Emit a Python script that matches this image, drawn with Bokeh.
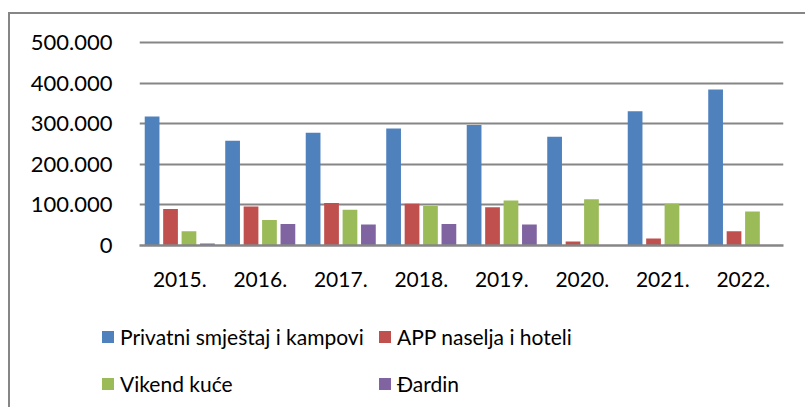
from bokeh.plotting import figure
from bokeh.models import (FactorRange, FixedTicker, Legend, LegendItem, ColumnDataSource, Range1d,
                          Spacer)
from bokeh.transform import dodge
from bokeh.layouts import column, row
from bokeh.embed import file_html
from bokeh.resources import INLINE

years = ["2015.", "2016.", "2017.", "2018.", "2019.", "2020.", "2021.", "2022."]
privatni = [318000, 258000, 278000, 288000, 297000, 268000, 331000, 384000]
app = [90000, 96000, 105000, 103000, 94000, 10000, 17000, 35000]
vikend = [35000, 63000, 88000, 97000, 111000, 114000, 103000, 84000]
dardin = [5000, 53000, 52000, 53000, 52000, 0, 0, 0]

series_names = ["Privatni smještaj i kampovi", "APP naselja i hoteli", "Vikend kuće", "Đardin"]
series_keys = ["privatni", "app", "vikend", "dardin"]
colors = ["#4F81BD", "#C0504D", "#9BBB59", "#8064A2"]
y_ticks = [0, 100000, 200000, 300000, 400000, 500000]
y_labels = ["0", "100.000", "200.000", "300.000", "400.000", "500.000"]

src = ColumnDataSource(dict(year=years, privatni=privatni, app=app, vikend=vikend, dardin=dardin))

FONT = "Lato"
FS = "21px"
GRAY = "#868686"
BORDER = "2px solid " + GRAY

# main chart
p = figure(x_range=FactorRange(factors=years, range_padding=0), y_range=Range1d(0, 505000),
           width=797, height=290, output_backend="svg", toolbar_location=None,
           min_border_left=129, min_border_right=24, min_border_top=26, min_border_bottom=59)
p.frame_align = False
p.styles = {"border-top": BORDER, "border-left": BORDER}
p.outline_line_color = None
p.xgrid.grid_line_color = None
p.ygrid.grid_line_color = GRAY
p.ygrid.grid_line_width = 2

bar_w = 0.183
step = 0.229
offsets = [-1.5 * step, -0.5 * step, 0.5 * step, 1.5 * step]
for key, off, c in zip(series_keys, offsets, colors):
    p.vbar(x=dodge("year", off, range=p.x_range), top=key, width=bar_w, source=src,
           fill_color=c, line_color=None)

p.yaxis.ticker = FixedTicker(ticks=y_ticks)
p.yaxis.major_label_overrides = {t: l for t, l in zip(y_ticks, y_labels)}
p.yaxis.axis_line_color = None
p.yaxis.major_tick_line_color = None
p.yaxis.minor_tick_line_color = None
p.yaxis.major_label_standoff = 21
p.yaxis.major_label_text_font = FONT
p.yaxis.major_label_text_font_size = "22px"
p.yaxis.major_label_text_color = "#000000"

p.xaxis.axis_line_color = GRAY
p.xaxis.axis_line_width = 2.5
p.xaxis.major_tick_line_color = None
p.xaxis.minor_tick_line_color = None
p.xaxis.major_label_standoff = 20
p.xaxis.major_label_text_font = FONT
p.xaxis.major_label_text_font_size = FS
p.xaxis.major_label_text_color = "#000000"

# legend strip below the chart: zero-width renderers carry the series styling for the legend
lf = figure(x_range=FactorRange(factors=years), y_range=Range1d(-2, -1),
            width=797, height=105, output_backend="svg", toolbar_location=None,
            min_border=0, x_axis_location=None, y_axis_location=None)
lf.frame_align = False
lf.styles = {"border-left": BORDER}
lf.outline_line_color = None
lf.grid.grid_line_color = None
lrs = []
for key, c in zip(series_keys, colors):
    lrs.append(lf.vbar(x="year", top=key, width=0, source=src,
                       fill_color=c, line_color=None))

positions = [(90, 58), (367, 58), (90, 10.5), (367, 10.5)]
for name, r, loc in zip(series_names, lrs, positions):
    lg = Legend(items=[LegendItem(label=name, renderers=[r])], location=loc,
                glyph_width=15, glyph_height=15, label_height=26, label_standoff=5,
                padding=0, margin=0, border_line_color=None, background_fill_alpha=0,
                label_text_font=FONT, label_text_font_size=FS, label_text_color="#000000")
    lf.add_layout(lg, "center")

layout = row(Spacer(width=8), column(Spacer(height=12), p, lf))
open("out.html", "w").write(file_html(layout, INLINE))
